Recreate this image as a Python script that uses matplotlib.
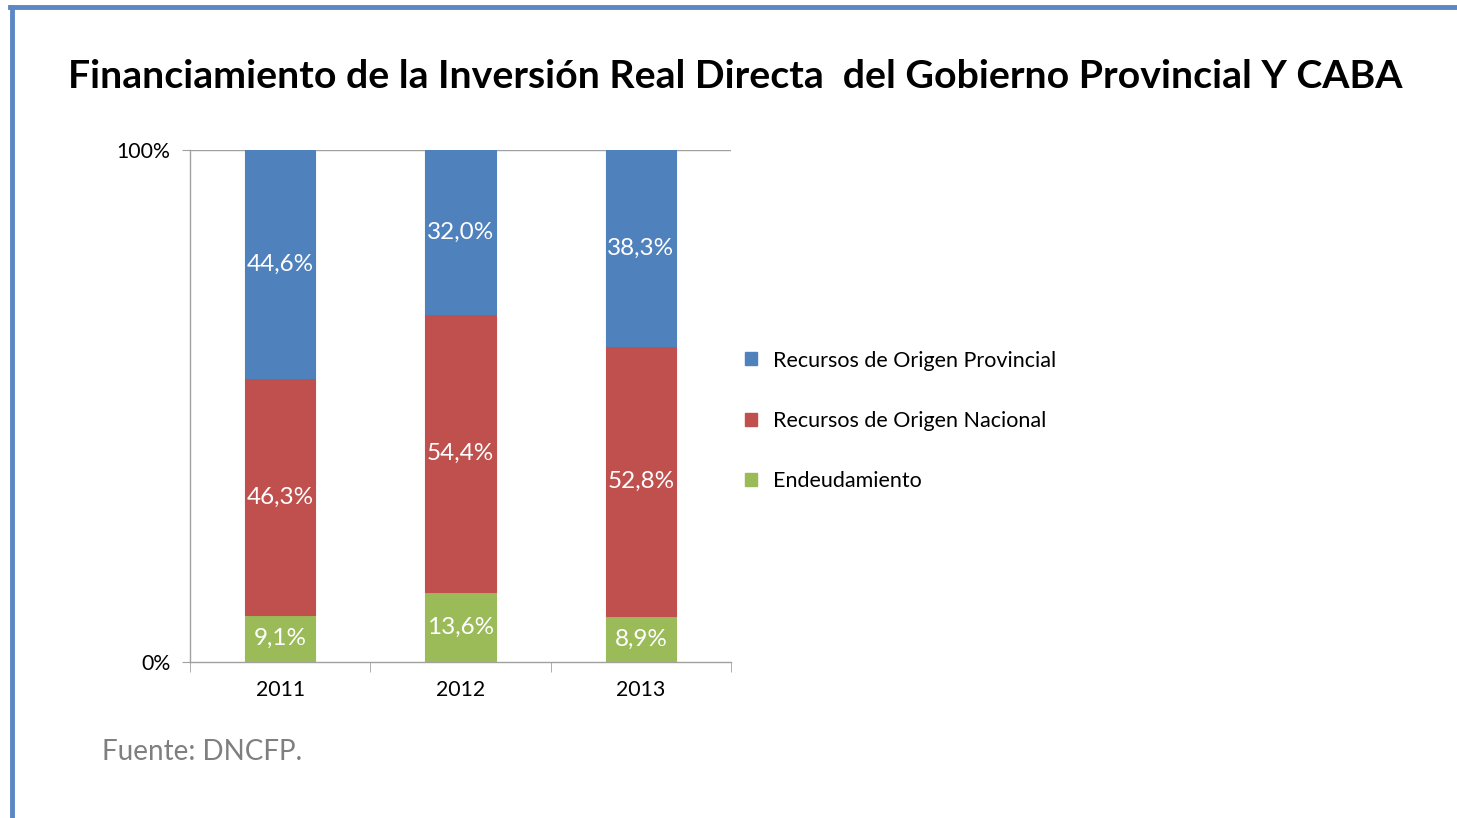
import matplotlib
matplotlib.use("Agg")
import matplotlib.pyplot as plt
from matplotlib.patches import Patch
from matplotlib.lines import Line2D

plt.rcParams['font.family'] = ['Lato', 'DejaVu Sans']

# datos
anios = ["2011", "2012", "2013"]
series = ["Recursos de Origen Provincial", "Recursos de Origen Nacional", "Endeudamiento"]
endeudamiento = [9.1, 13.6, 8.9]
nacional = [46.3, 54.4, 52.8]
provincial = [44.6, 32.0, 38.3]

azul = '#4F81BD'
rojo = '#C0504D'
verde = '#9BBB59'

W, H = 1457, 818
fig = plt.figure(figsize=(W / 100, H / 100), dpi=100)

# marco azul de la diapositiva
fig.add_artist(Line2D([10 / W, 1], [1 - 7 / H, 1 - 7 / H], color='#5B87C5', lw=3.5, transform=fig.transFigure))
fig.add_artist(Line2D([12 / W, 12 / W], [0, 1 - 7 / H], color='#5B87C5', lw=3.5, transform=fig.transFigure))

fig.text(68 / W, 1 - 77 / H, "Financiamiento de la Inversión Real Directa  del Gobierno Provincial Y CABA",
         fontsize=28.3, fontweight='bold', va='center', ha='left', color='black')
fig.text(102 / W, 1 - 752 / H, "Fuente: DNCFP.", fontsize=20, color='#7F7F7F', va='center', ha='left')

ax = fig.add_axes([190 / W, 1 - 662 / H, 541 / W, 512 / H])

x = range(len(anios))
ancho = 0.39
abajo1 = endeudamiento
abajo2 = [a + b for a, b in zip(endeudamiento, nacional)]
capas = [(endeudamiento, [0, 0, 0], verde), (nacional, abajo1, rojo), (provincial, abajo2, azul)]
for vals, base, col in capas:
    barras = ax.bar(x, vals, ancho, bottom=base, color=col, edgecolor=col, linewidth=0.8, zorder=3)
    for b, v, y0 in zip(barras, vals, base):
        ax.text(b.get_x() + b.get_width() / 2, y0 + v / 2, f"{v:.1f}%".replace('.', ','),
                ha='center', va='center', color='white', fontsize=17.5, zorder=4)

ax.set_xlim(-0.5, 2.5)
ax.set_ylim(0, 100)
ax.set_yticks([0, 100])
ax.set_yticklabels(["0%", "100%"], fontsize=15.3)
ax.set_xticks(list(x))
ax.set_xticklabels(anios, fontsize=15.3)
ax.set_xticks([-0.5, 0.5, 1.5, 2.5], minor=True)
ax.tick_params(axis='x', which='major', length=0, pad=13)
ax.tick_params(axis='x', which='minor', length=7, color='#A0A0A0', direction='out')
ax.tick_params(axis='y', length=6, color='#A0A0A0', pad=8)
ax.axhline(100, color='#A0A0A0', lw=1, zorder=1)
for s in ['top', 'right']:
    ax.spines[s].set_visible(False)
for s in ['left', 'bottom']:
    ax.spines[s].set_color('#A0A0A0')
    ax.spines[s].set_linewidth(1)

handles = [Patch(facecolor=azul, edgecolor=azul), Patch(facecolor=rojo, edgecolor=rojo),
           Patch(facecolor=verde, edgecolor=verde)]
fig.legend(handles, series, loc='center left', bbox_to_anchor=(726 / W, 1 - 421 / H),
           frameon=False, fontsize=15.5, handlelength=0.55, handleheight=0.55,
           handletextpad=0.75, labelspacing=1.88)

fig.savefig("out.png", dpi=100)
